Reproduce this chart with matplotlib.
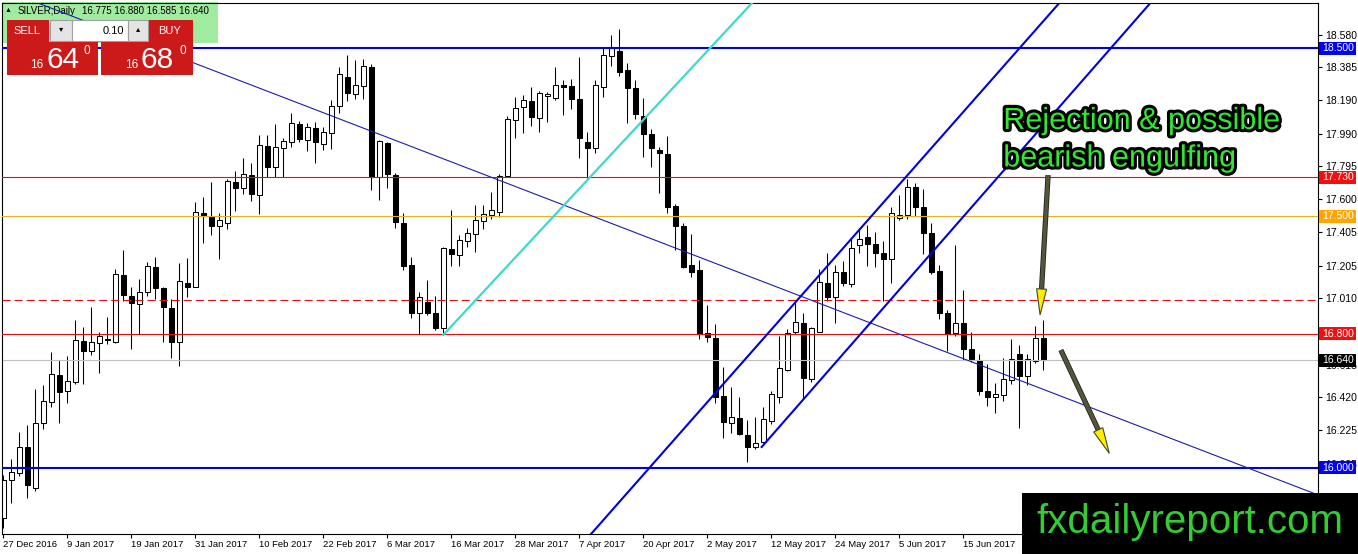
import numpy as np
import matplotlib
matplotlib.use('Agg')
import matplotlib.pyplot as plt
from matplotlib.patches import Rectangle, Polygon
from matplotlib.lines import Line2D
from matplotlib.transforms import blended_transform_factory, IdentityTransform
import matplotlib.patheffects as pe

plt.rcParams['font.family'] = ['Liberation Sans', 'DejaVu Sans']
plt.rcParams['lines.scale_dashes'] = False

# daily OHLC (27 Dec 2016 .. end of June 2017)
opens = [15.700, 15.930, 15.972, 16.123, 15.879, 16.266, 16.391, 16.552, 16.457, 16.512,
         16.754, 16.695, 16.742, 16.765, 16.752, 17.147, 17.022, 16.974, 17.050, 17.197,
         17.070, 16.955, 16.750, 17.099, 17.080, 17.516, 17.500, 17.439, 17.457, 17.701,
         17.665, 17.742, 17.623, 17.915, 17.790, 17.903, 17.939, 18.048, 17.951, 18.022,
         17.931, 17.992, 18.153, 18.326, 18.225, 18.272, 18.385, 17.734, 17.933, 17.744,
         17.457, 17.209, 16.921, 16.990, 16.921, 16.832, 17.302, 17.268, 17.351, 17.393,
         17.470, 17.506, 17.526, 17.738, 18.072, 18.147, 18.187, 18.082, 18.215, 18.205,
         18.278, 18.274, 18.197, 17.939, 17.903, 18.270, 18.451, 18.482, 18.369, 18.260,
         18.098, 17.986, 17.893, 17.867, 17.562, 17.441, 17.209, 17.179, 16.802, 16.772,
         16.429, 16.266, 16.296, 16.195, 16.127, 16.153, 16.282, 16.424, 16.583, 16.807,
         16.861, 16.529, 16.811, 17.099, 17.020, 17.168, 17.095, 17.327, 17.373, 17.331,
         17.277, 17.242, 17.486, 17.506, 17.670, 17.551, 17.397, 17.172, 16.920, 16.801,
         16.861, 16.708, 16.643, 16.458, 16.424, 16.432, 16.523, 16.678, 16.547, 16.639,
         16.775]
highs = [15.960, 16.052, 16.215, 16.254, 16.468, 16.492, 16.691, 16.641, 16.667, 16.881,
         16.840, 16.959, 16.812, 16.899, 17.185, 17.296, 17.080, 17.127, 17.228, 17.256,
         17.080, 17.008, 17.219, 17.248, 17.582, 17.611, 17.701, 17.516, 17.719, 17.768,
         17.844, 17.814, 17.983, 17.983, 18.046, 17.967, 18.112, 18.066, 18.052, 18.058,
         18.028, 18.191, 18.385, 18.457, 18.429, 18.433, 18.405, 17.950, 17.940, 17.754,
         17.516, 17.258, 17.046, 17.119, 17.024, 17.318, 17.536, 17.387, 17.427, 17.566,
         17.564, 17.641, 17.750, 18.096, 18.207, 18.221, 18.270, 18.242, 18.240, 18.385,
         18.310, 18.314, 18.445, 17.998, 18.310, 18.504, 18.578, 18.611, 18.413, 18.310,
         18.201, 18.018, 17.913, 17.976, 17.570, 17.461, 17.393, 17.238, 16.971, 16.857,
         16.603, 16.484, 16.421, 16.286, 16.302, 16.361, 16.461, 16.785, 16.825, 16.996,
         16.924, 16.841, 17.184, 17.277, 17.206, 17.234, 17.361, 17.426, 17.444, 17.406,
         17.353, 17.555, 17.625, 17.718, 17.698, 17.658, 17.456, 17.206, 16.940, 17.327,
         17.059, 16.807, 16.676, 16.617, 16.508, 16.652, 16.766, 16.732, 16.676, 16.845,
         16.880]
lows = [15.640, 15.790, 15.953, 15.820, 15.865, 16.230, 16.365, 16.266, 16.389, 16.500,
        16.502, 16.675, 16.568, 16.736, 16.746, 16.992, 16.711, 16.800, 17.024, 17.004,
        16.748, 16.657, 16.610, 17.020, 17.080, 17.338, 17.387, 17.242, 17.421, 17.532,
        17.631, 17.592, 17.510, 17.735, 17.731, 17.735, 17.913, 17.943, 17.889, 17.818,
        17.893, 17.899, 18.115, 18.185, 18.197, 18.197, 17.655, 17.596, 17.665, 17.427,
        17.179, 16.895, 16.798, 16.911, 16.822, 16.792, 17.203, 17.203, 17.318, 17.284,
        17.421, 17.482, 17.496, 17.738, 17.963, 17.992, 18.036, 18.002, 18.058, 18.191,
        18.102, 18.137, 17.848, 17.724, 17.873, 18.207, 18.393, 18.336, 18.052, 18.076,
        17.854, 17.790, 17.639, 17.520, 17.298, 17.193, 17.139, 16.766, 16.752, 16.385,
        16.177, 16.206, 16.197, 16.038, 16.111, 16.147, 16.262, 16.389, 16.577, 16.797,
        16.408, 16.514, 16.807, 16.996, 16.861, 17.083, 17.075, 17.281, 17.202, 17.198,
        16.994, 17.099, 17.476, 17.480, 17.500, 17.272, 17.154, 16.885, 16.698, 16.785,
        16.643, 16.633, 16.434, 16.369, 16.329, 16.401, 16.500, 16.240, 16.494, 16.627,
        16.585]
closes = [15.930, 15.978, 16.127, 15.897, 16.266, 16.397, 16.560, 16.451, 16.520, 16.760,
          16.699, 16.748, 16.784, 16.760, 17.153, 17.028, 16.980, 17.046, 17.201, 17.074,
          16.957, 16.752, 17.111, 17.080, 17.522, 17.502, 17.443, 17.475, 17.707, 17.669,
          17.748, 17.629, 17.921, 17.794, 17.909, 17.945, 18.054, 17.961, 18.028, 17.939,
          17.998, 18.157, 18.344, 18.231, 18.278, 18.391, 17.734, 17.947, 17.750, 17.463,
          17.205, 16.925, 17.016, 16.925, 16.832, 17.308, 17.272, 17.357, 17.397, 17.476,
          17.512, 17.534, 17.738, 18.076, 18.141, 18.189, 18.092, 18.232, 18.229, 18.278,
          18.270, 18.197, 17.963, 17.907, 18.278, 18.457, 18.504, 18.359, 18.264, 18.105,
          17.986, 17.903, 17.873, 17.556, 17.443, 17.197, 17.169, 16.798, 16.778, 16.425,
          16.272, 16.302, 16.201, 16.123, 16.147, 16.290, 16.439, 16.593, 16.801, 16.867,
          16.537, 16.831, 17.105, 17.020, 17.168, 17.099, 17.307, 17.365, 17.331, 17.281,
          17.246, 17.520, 17.506, 17.670, 17.555, 17.400, 17.168, 16.924, 16.797, 16.861,
          16.710, 16.647, 16.460, 16.424, 16.438, 16.527, 16.646, 16.547, 16.646, 16.772,
          16.640]

date_labels = ['27 Dec 2016', '9 Jan 2017', '19 Jan 2017', '31 Jan 2017', '10 Feb 2017',
               '22 Feb 2017', '6 Mar 2017', '16 Mar 2017', '28 Mar 2017', '7 Apr 2017',
               '20 Apr 2017', '2 May 2017', '12 May 2017', '24 May 2017', '5 Jun 2017',
               '15 Jun 2017']
date_bars = [0, 8, 16, 24, 32, 40, 48, 56, 64, 72, 80, 88, 96, 104, 112, 120]

# scale labels (16.815 sits fully under the 16.800 box, so it is left out)
price_ticks = [18.580, 18.385, 18.190, 17.990, 17.795, 17.600, 17.405, 17.205,
               17.010, 16.615, 16.420, 16.225, 16.025, 15.830]

# horizontal levels drawn on the chart
support_res = [18.500, 16.000]
red_levels = [17.730, 16.800]
gold_level = 17.500
dashed_level = 17.000
last_price = 16.640

# boxed prices on the right scale
box_prices = [18.500, 17.730, 17.500, 16.800, 16.640, 16.000]
box_colors = ['#0000ff', '#f01010', '#ffa500', '#f01010', '#000000', '#0000ff']

# trend lines: (bar, price) anchor and slope in price per bar
trend_anchor, trend_slope = (0.0, 18.847), -0.0183
cyan_anchor, cyan_slope = (55.0, 16.792), 0.0512
chan1_anchor, chan1_slope = (95.6, 16.802), 0.0540
chan2_anchor, chan2_slope = (94.8, 16.125), 0.0544

# arrows: start bar, start price, end bar, end price
arrow1 = (130.6, 17.744, 129.6, 16.911)
arrow2 = (132.2, 16.702, 138.25, 16.087)

W, H = 1358, 554
fig = plt.figure(figsize=(W / 100, H / 100), dpi=100)
fig.patch.set_facecolor('white')
ax = fig.add_axes([2 / W, 20 / H, 1316 / W, 531 / H])
ax.set_xlim(-0.1625, 164.34)
ax.set_ylim(15.607, 18.768)
ax.set_facecolor('white')
for s in ax.spines.values():
    s.set_color('black')
    s.set_linewidth(0.8)

# candles
x = np.arange(len(opens))
o, h, l, c = map(np.array, (opens, highs, lows, closes))
up = c >= o
ax.vlines(x, l, h, color='black', lw=0.75, zorder=2)
ax.bar(x, np.maximum(np.abs(c - o), 0.004), bottom=np.minimum(o, c), width=0.62,
       color=np.where(up, 'white', 'black'), edgecolor='black', linewidth=0.75, zorder=2.1)

# levels
for p in support_res:
    ax.axhline(p, color='#0000e0', lw=1.5, zorder=3)
for p in red_levels:
    ax.axhline(p, color='#e01010', lw=0.8, zorder=3)
ax.axhline(gold_level, color='#e8b020', lw=0.8, zorder=3)
ax.axhline(dashed_level, color='#e01010', lw=0.8, dashes=(5.8, 2.9), zorder=3)
ax.axhline(last_price, color='#c0c0c0', lw=0.8, zorder=2.5)

# trend lines
ax.axline(trend_anchor, slope=trend_slope, color='#1c1cb0', lw=0.8, zorder=3)
ax.axline(chan1_anchor, slope=chan1_slope, color='#0000e0', lw=1.5, zorder=3)
ke = 170
ax.plot([chan2_anchor[0], ke], [chan2_anchor[1], chan2_anchor[1] + chan2_slope * (ke - chan2_anchor[0])],
        color='#0000e0', lw=1.5, zorder=3)
ax.plot([cyan_anchor[0], ke], [cyan_anchor[1], cyan_anchor[1] + cyan_slope * (ke - cyan_anchor[0])],
        color='#40d8cc', lw=1.6, zorder=3)

# axes ticks
ax.set_xticks(date_bars)
ax.set_xticklabels(date_labels, ha='left', fontsize=6.8)
ax.tick_params(axis='x', length=3, width=0.8, pad=1.5)
ax.yaxis.tick_right()
ax.set_yticks(price_ticks)
ax.set_yticklabels([f'{v:.3f}' for v in price_ticks], fontsize=7.5)
ax.tick_params(axis='y', length=3, width=0.8, pad=2)

# price boxes on the scale
bt = blended_transform_factory(fig.transFigure, ax.transData)
ppu = 531 / (18.768 - 15.607)
for p, col in zip(box_prices, box_colors):
    ax.add_patch(Rectangle((1319 / W, p - 6.5 / ppu), 37 / W, 13 / ppu, transform=bt,
                           fc=col, ec='none', clip_on=False, zorder=5))
    ax.text(1322 / W, p, f'{p:.3f}', transform=bt, color='white', fontsize=7.5,
            ha='left', va='center', clip_on=False, zorder=6)

# annotation text
fx = [pe.withStroke(linewidth=4.5, foreground='black')]
ax.text(125.0, 18.018, 'Rejection & possible', fontsize=22, color='#33e633',
        va='baseline', ha='left', path_effects=fx, zorder=8)
ax.text(125.0, 17.795, 'bearish engulfing', fontsize=22, color='#33e633',
        va='baseline', ha='left', path_effects=fx, zorder=8)


def draw_arrow(k0, p0, k1, p1):
    (x0, y0), (x1, y1) = ax.transData.transform([(k0, p0), (k1, p1)])
    d = np.hypot(x1 - x0, y1 - y0)
    ux, uy = (x1 - x0) / d, (y1 - y0) / d
    hl, hw = 26, 5
    bx, by = x1 - ux * hl, y1 - uy * hl
    nx, ny = -uy, ux
    fig.add_artist(Line2D([x0, bx], [y0, by], transform=IdentityTransform(), color='#55553a',
                          lw=2.6, solid_capstyle='butt', zorder=9,
                          path_effects=[pe.withStroke(linewidth=3.8, foreground='#222')]))
    fig.add_artist(Polygon([[x1, y1], [bx + nx * hw, by + ny * hw], [bx - nx * hw, by - ny * hw]],
                           closed=True, transform=IdentityTransform(), fc='#ffee00',
                           ec='#444433', lw=0.8, zorder=9))


draw_arrow(*arrow1)
draw_arrow(*arrow2)


# trade panel in the top-left corner
def fig_box(x0, y0, x1, y1, fc, ec='none', z=10, lw=0.8):
    fig.add_artist(Rectangle((x0 / W, 1 - y1 / H), (x1 - x0) / W, (y1 - y0) / H,
                             transform=fig.transFigure, fc=fc, ec=ec, lw=lw, zorder=z))


def fig_txt(x, y, s, z=11, **kw):
    fig.text(x / W, 1 - y / H, s, zorder=z, **kw)


ax.add_patch(Rectangle((2 / W, 1 - 43 / H), 216 / W, 41 / H, transform=fig.transFigure,
                       fc='#a0eba0', ec='none', clip_on=False, zorder=1))
ax.text(5 / W, 1 - 10.5 / H, '▲', transform=fig.transFigure, fontsize=5, va='center', zorder=1.5)
ax.text(18 / W, 1 - 10.5 / H, 'SILVER,Daily', transform=fig.transFigure, fontsize=7,
        va='center', zorder=1.5)
ax.text(82 / W, 1 - 10.5 / H, '16.775 16.880 16.585 16.640', transform=fig.transFigure,
        fontsize=7, va='center', zorder=1.5)

red = '#cc1a1a'
fig_box(7, 20, 49, 42, red)
fig_txt(27, 30.5, 'SELL', color='white', fontsize=8, ha='center', va='center')
fig_box(50, 20, 72, 41, '#e4e4e4', ec='#a0a0a0')
fig_txt(61, 30, '▾', color='black', fontsize=6, ha='center', va='center')
fig_box(72, 20, 128, 41, 'white', ec='#a0a0a0')
fig_txt(124, 30.5, '0.10', color='black', fontsize=8, ha='right', va='center')
fig_box(128, 20, 148, 41, '#e4e4e4', ec='#a0a0a0')
fig_txt(138, 30, '▴', color='black', fontsize=6, ha='center', va='center')
fig_box(149, 20, 193, 42, red)
fig_txt(170, 30.5, 'BUY', color='white', fontsize=8, ha='center', va='center')
fig_box(7, 42, 98, 75, red)
fig_box(101, 42, 193, 75, red)
for x0, big in [(30, '64'), (125, '68')]:
    fig_txt(x0, 68, '16', color='white', fontsize=8.5, va='baseline')
    fig_txt(x0 + 16, 68, big, color='white', fontsize=21.5, va='baseline')
    fig_txt(x0 + 54, 51, '0', color='white', fontsize=8.5, va='center')

# watermark
fig_box(1022, 493, W, H, 'black', z=20)
fig_txt(1190, 522, 'fxdailyreport.com', z=21, color='#33cc33', fontsize=29,
        ha='center', va='center')

fig.savefig('out.png', dpi=100)
